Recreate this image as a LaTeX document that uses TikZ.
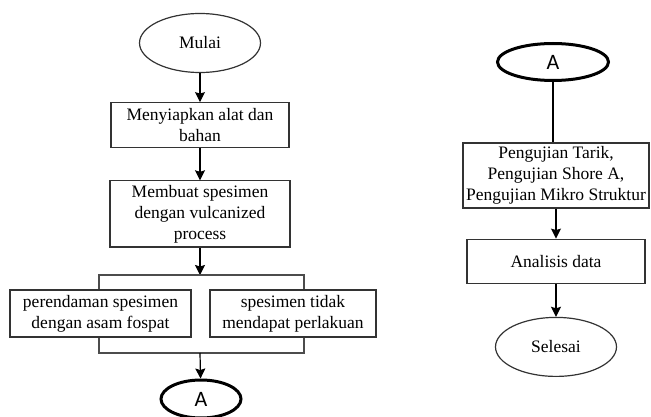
\documentclass[tikz,border=0pt]{standalone}
\usepackage{fontspec}
\setmainfont{Liberation Serif}
\newfontfamily\teksfont{Liberation Serif}
\newfontfamily\konfont{Carlito}
\usetikzlibrary{shapes.geometric,arrows.meta,positioning,calc}

\begin{document}
\begin{tikzpicture}[
    x=1pt, y=-1pt,
    node distance=30pt and 20pt,
    box/.style={rectangle, draw=black!80, line width=1.2pt, inner sep=1pt, align=center, font=\teksfont\fontsize{17.5}{21}\selectfont},
    proses/.style={box, minimum height=45pt},
    terminal/.style={ellipse, draw=black!80, line width=1.2pt, minimum width=121pt, minimum height=59pt, inner sep=0pt, font=\teksfont\fontsize{17.5}{21}\selectfont},
    konektor/.style={ellipse, draw, line width=3pt, inner sep=0pt, font=\konfont\fontsize{22}{24}\selectfont},
    garis/.style={draw=black!70, line width=1.2pt},
    arrow/.style={-{Stealth[length=10pt, width=10pt, inset=1.5pt]}, line width=1.2pt}
]
\useasboundingbox (0,0) rectangle (651,417);

% Nodes
\node[terminal] (mulai) at (200,43) {Mulai};
\node[proses, minimum width=178pt, below=29pt of mulai] (siapkan) {Menyiapkan alat dan\\bahan};
\node[box, minimum width=180pt, minimum height=66pt, below=32pt of siapkan] (buat) {Membuat spesimen\\dengan vulcanized\\process};
\node[proses, minimum width=181pt, minimum height=47pt] (rendam) at (100.5,313.5) {perendaman spesimen\\dengan asam fospat};
\node[proses, minimum width=166pt, minimum height=47pt] (tidak) at (293,313.5) {spesimen tidak\\mendapat perlakuan};
\node[konektor, minimum width=80pt, minimum height=38pt] (a1) at (201,399) {A};

\node[konektor, minimum width=111pt, minimum height=37pt] (a2) at (553,62) {A};
\node[box, minimum width=186pt, minimum height=65pt] (uji) at (556,175.5) {Pengujian Tarik,\\Pengujian Shore A,\\Pengujian Mikro Struktur};
\node[proses, minimum width=178pt, minimum height=44pt, below=30pt of uji] (analisis) {Analisis data};
\node[terminal, below=33pt of analisis] (selesai) {Selesai};

% Branch points
\coordinate (cabang) at (200,275);
\coordinate (kiriatas) at (99,275);
\coordinate (kananatas) at (304,275);
\coordinate (kiribawah) at (99,353);
\coordinate (kananbawah) at (304,353);
\coordinate (gabung) at (200,353);

% Edges
\draw[arrow] (mulai) -- (siapkan);
\draw[arrow] (siapkan) -- (buat);
\draw[arrow] (buat) -- (cabang);
\draw[garis] (kiriatas |- rendam.north) -- (kiriatas) -- (kananatas) -- (kananatas |- tidak.north);
\draw[garis] (kiribawah |- rendam.south) -- (kiribawah) -- (kananbawah) -- (kananbawah |- tidak.south);
\draw[arrow] (gabung) -- (a1);

\draw[line width=1.2pt] (a2) -- (a2 |- uji.north);
\draw[arrow] (uji.south -| analisis) -- (analisis);
\draw[arrow] (analisis) -- (selesai);
\end{tikzpicture}
\end{document}
